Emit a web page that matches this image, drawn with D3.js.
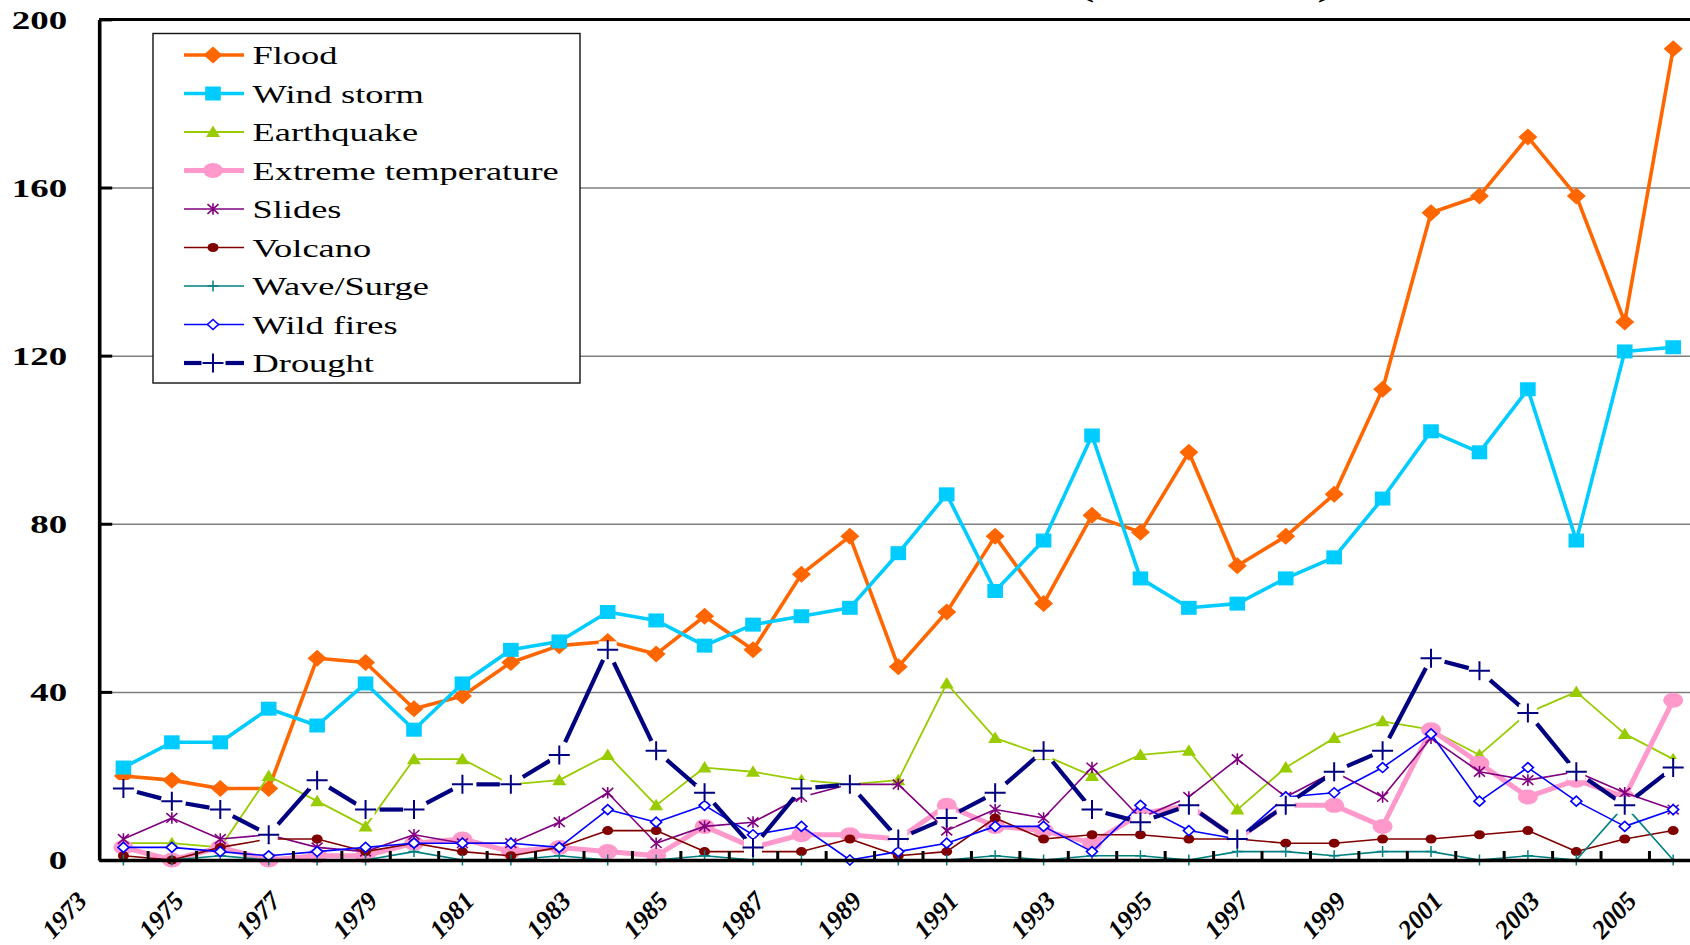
<!DOCTYPE html>
<html>
<head>
<meta charset="utf-8">
<script src="https://cdn.jsdelivr.net/npm/d3@7"></script>
<style>
  html, body { margin: 0; padding: 0; background: #fff; overflow: hidden; }
  svg { display: block; }
  text { font-family: "Liberation Serif", "Times New Roman", serif; }
</style>
</head>
<body>
<svg id="chart" width="1690" height="945"></svg>
<script>
// Years on the category axis and the labels shown under it
const years = d3.range(1973, 2006).map(String);
const xTickLabels = years.filter((d, i) => i % 2 === 0);
const yTicks = [0, 40, 80, 120, 160, 200];

// Number of events per year, by disaster type
const flood       = [20,19,17,17,48,47,36,39,47,51,52,49,58,50,68,77,46,59,77,61,82,78,97,70,77,87,112,154,158,172,158,128,193];
const windStorm   = [22,28,28,36,32,42,31,42,50,52,59,57,51,56,58,60,73,87,64,76,101,67,60,61,67,72,86,102,97,112,76,121,122];
const earthquake  = [4,4,3,20,14,8,24,24,18,19,25,13,22,21,19,18,19,42,29,25,20,25,26,12,22,29,33,31,25,35,40,30,24];
const extremeTemp = [3,0,3,0,1,1,4,5,2,3,2,1,8,3,6,6,5,13,8,7,4,11,13,5,13,13,8,31,23,15,19,15,38];
const slides      = [5,10,5,6,3,2,6,4,4,9,16,4,8,9,15,18,18,7,12,10,22,10,15,24,15,21,15,29,21,19,21,16,12];
const volcano     = [1,0,3,5,5,2,4,2,1,3,7,7,2,2,2,5,1,2,10,5,6,6,5,5,4,4,5,5,6,7,2,5,7];
const waveSurge   = [0,0,1,0,0,0,2,0,0,1,0,0,1,0,0,0,0,0,1,0,1,1,0,2,2,1,2,2,0,1,0,13,0];
const wildFires   = [3,3,2,1,2,3,4,4,4,3,12,9,13,6,8,0,2,4,8,8,2,13,7,5,15,16,22,30,14,22,14,8,12];
const drought     = [17,14,12,6,19,12,12,18,18,25,50,26,16,3,17,18,5,10,16,26,12,9,13,5,13,21,26,48,45,35,21,13,22];

const seriesNames = ["Flood", "Wind storm", "Earthquake", "Extreme temperature", "Slides",
                     "Volcano", "Wave/Surge", "Wild fires", "Drought"];
const seriesValues = [flood, windStorm, earthquake, extremeTemp, slides, volcano, waveSurge, wildFires, drought];

// Marker shapes (path strings around 0,0)
const diamond = (a, b) => `M0,${-b}L${a},0L0,${b}L${-a},0Z`;
const rectP = (a, b) => `M${-a},${-b}H${a}V${b}H${-a}Z`;
const tri = (a, up, down) => `M0,${-up}L${a},${down}L${-a},${down}Z`;
const ell = (rx, ry) => `M${-rx},0A${rx},${ry} 0 1,0 ${rx},0A${rx},${ry} 0 1,0 ${-rx},0Z`;
const plus = (a, b) => `M${-a},0H${a}M0,${-b}V${b}`;
const star = (a, b) => `M${-a},${-b}L${a},${b}M${-a},${b}L${a},${-b}M0,${-b - 1}V${b + 1}`;

const styles = [
  { color: "#FF6600", width: 3.6, marker: diamond(9.5, 8.5), fill: "#FF6600", stroke: "none" },
  { color: "#00CCFF", width: 3.6, marker: rectP(7.8, 7), fill: "#00CCFF", stroke: "none" },
  { color: "#99CC00", width: 1.8, marker: tri(7, 6.5, 5), fill: "#99CC00", stroke: "none" },
  { color: "#FF99CC", width: 5, marker: ell(10, 7.5), fill: "#FF99CC", stroke: "none" },
  { color: "#800080", width: 1.6, marker: star(5.5, 4.8), fill: "none", stroke: "#800080", mw: 1.6 },
  { color: "#800000", width: 1.6, marker: ell(5.5, 4.5), fill: "#800000", stroke: "none" },
  { color: "#008080", width: 1.6, marker: plus(5.5, 5.5), fill: "none", stroke: "#008080", mw: 1.5 },
  { color: "#0000FF", width: 1.6, marker: diamond(5.5, 5), fill: "#fff", stroke: "#0000FF", mw: 1.6 },
  { color: "#000080", width: 4.2, marker: plus(10.5, 9.5), fill: "none", stroke: "#000080", mw: 2, gapped: true }
];

const svg = d3.select("#chart");
const plotLeft = 99.2, bandW = 48.43, plotTop = 19.4, plotBottom = 860;

const x = d3.scaleBand().domain(years).range([plotLeft, plotLeft + bandW * years.length]).padding(0);
const xEdge = d3.scaleLinear().domain([0, years.length]).range(x.range());
const y = d3.scaleLinear().domain([0, 200]).range([plotBottom, plotTop]);
const cx = yr => x(yr) + x.bandwidth() / 2;
const plotRight = x.range()[1];
const STRETCH = 1.42;

// Title, mostly above the top edge
svg.append("text")
  .attr("x", 1079).attr("y", -2.6)
  .attr("textLength", 254).attr("lengthAdjust", "spacingAndGlyphs")
  .attr("font-size", 26).attr("font-weight", "bold")
  .text("(1973 - 2005)");

// Horizontal gridlines
svg.append("g")
  .attr("transform", `translate(${plotLeft},0)`)
  .call(d3.axisLeft(y).tickValues([40, 80, 120, 160]).tickSize(-(plotRight - plotLeft)).tickFormat(""))
  .call(g => g.select(".domain").remove())
  .call(g => g.selectAll("line").attr("stroke", "#7f7f7f").attr("stroke-width", 1.5));

// Top border of the plot area
svg.append("line")
  .attr("x1", plotLeft).attr("x2", plotRight)
  .attr("y1", y(200)).attr("y2", y(200))
  .attr("stroke", "#000").attr("stroke-width", 3);

// Series lines and markers
const layer = svg.append("g");
seriesValues.forEach((vals, si) => {
  const st = styles[si];
  const pts = years.map((yr, i) => [cx(yr), y(vals[i])]);
  const g = layer.append("g");
  if (!st.gapped) {
    g.append("path")
      .attr("d", d3.line()(pts))
      .attr("fill", "none").attr("stroke", st.color)
      .attr("stroke-width", st.width).attr("stroke-linejoin", "round");
  } else {
    // dashes run between the markers, leaving a gap around each one
    const segs = d3.pairs(pts).map(([p, q]) => {
      const dx = q[0] - p[0], dy = q[1] - p[1], len = Math.hypot(dx, dy);
      const ux = dx / len, uy = dy / len, g0 = 14, g1 = 11;
      return [[p[0] + ux * g0, p[1] + uy * g0], [q[0] - ux * g1, q[1] - uy * g1]];
    });
    g.selectAll("line.seg").data(segs).join("line")
      .attr("x1", d => d[0][0]).attr("y1", d => d[0][1])
      .attr("x2", d => d[1][0]).attr("y2", d => d[1][1])
      .attr("stroke", st.color).attr("stroke-width", st.width);
    g.selectAll("rect.bg").data(pts).join("rect")
      .attr("x", d => d[0] - 9).attr("y", d => d[1] - 8.5)
      .attr("width", 18).attr("height", 17).attr("fill", "#fff");
  }
  g.selectAll("path.mk").data(pts).join("path")
    .attr("class", "mk")
    .attr("transform", d => `translate(${d[0]},${d[1]})`)
    .attr("d", st.marker)
    .attr("fill", st.fill).attr("stroke", st.stroke)
    .attr("stroke-width", st.mw || 0);
});

// Y axis with inward ticks and bold labels
svg.append("g")
  .attr("transform", `translate(${plotLeft},0)`)
  .call(d3.axisLeft(y).tickValues(yTicks).tickSize(-13).tickSizeOuter(0))
  .call(g => g.select(".domain").attr("stroke", "#000").attr("stroke-width", 3.6))
  .call(g => g.selectAll(".tick line").attr("stroke", "#000").attr("stroke-width", 3))
  .call(g => g.selectAll(".tick text")
    .attr("x", 0).attr("dy", "0.34em")
    .attr("transform", `translate(-32,0) scale(${STRETCH},1)`)
    .attr("text-anchor", "end")
    .attr("font-family", "Liberation Serif, Times New Roman, serif")
    .attr("font-size", 26).attr("font-weight", "bold").attr("fill", "#000"));

// X axis: tick marks on category boundaries
svg.append("g")
  .attr("transform", `translate(0,${plotBottom})`)
  .call(d3.axisBottom(xEdge).tickValues(d3.range(1, years.length)).tickSize(-9).tickSizeOuter(0).tickFormat(""))
  .call(g => g.select(".domain").attr("stroke", "#000").attr("stroke-width", 3.6))
  .call(g => g.selectAll(".tick line").attr("stroke", "#000").attr("stroke-width", 3));

// X axis labels, rotated
svg.append("g")
  .attr("transform", `translate(0,${plotBottom})`)
  .call(d3.axisBottom(x).tickValues(xTickLabels).tickSize(0))
  .call(g => g.select(".domain").remove())
  .call(g => g.selectAll(".tick text")
    .attr("x", 0).attr("y", 0).attr("dy", 0)
    .attr("transform", "translate(-35,42) rotate(-47)")
    .attr("text-anchor", "end")
    .attr("font-family", "Liberation Serif, Times New Roman, serif")
    .attr("font-size", 26).attr("font-weight", "bold").attr("font-style", "italic")
    .attr("fill", "#000"));

// Legend
const legend = svg.append("g");
legend.append("rect")
  .attr("x", 153).attr("y", 33.5).attr("width", 427).attr("height", 349.5)
  .attr("fill", "#fff").attr("stroke", "#111").attr("stroke-width", 1.4);
seriesNames.forEach((name, i) => {
  const st = styles[i];
  const cy = 55 + i * 38.5;
  const row = legend.append("g");
  if (!st.gapped) {
    row.append("line").attr("x1", 184).attr("x2", 244).attr("y1", cy).attr("y2", cy)
      .attr("stroke", st.color).attr("stroke-width", st.width);
  } else {
    [[184, 201.5], [225.5, 244]].forEach(([a, b]) =>
      row.append("line").attr("x1", a).attr("x2", b).attr("y1", cy).attr("y2", cy)
        .attr("stroke", st.color).attr("stroke-width", st.width));
  }
  row.append("path")
    .attr("transform", `translate(213,${cy})`)
    .attr("d", st.marker)
    .attr("fill", st.fill).attr("stroke", st.stroke).attr("stroke-width", st.mw || 0);
  row.append("text")
    .attr("transform", `translate(252.5,${cy + 9}) scale(1.4,1)`)
    .attr("font-size", 26).attr("fill", "#000")
    .text(name);
});
</script>
</body>
</html>
